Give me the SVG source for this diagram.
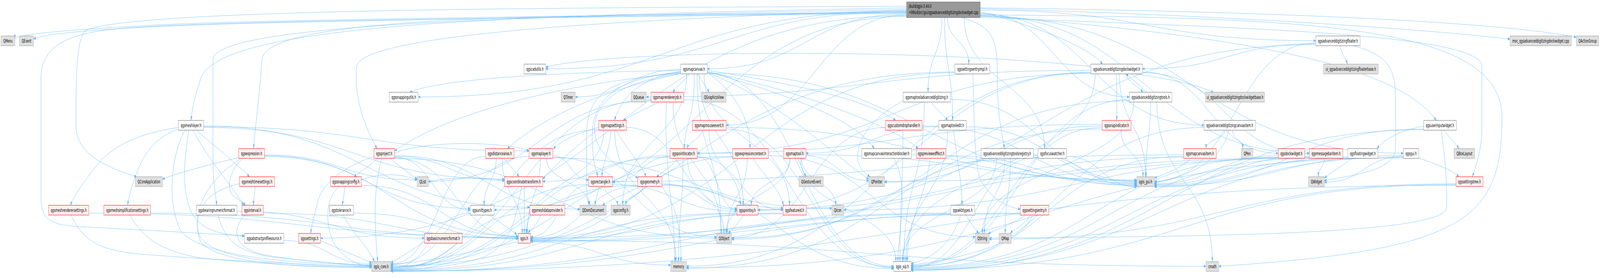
<svg xmlns="http://www.w3.org/2000/svg" width="7965" height="711" viewBox="0 0 7965 711" preserveAspectRatio="none" style="width:100%;height:100%">
<style>
text{font-family:"DejaVu Sans",Verdana,sans-serif;font-size:13px;text-anchor:middle;fill:#000}
.n rect{fill:#fff;stroke:#666}
.r rect{fill:#FFF0F0;stroke:#F00}
.g rect{fill:#E0E0E0;stroke:#999}
.root rect{fill:#999;stroke:#666}
.root text{text-anchor:start}
#edges path{fill:none;stroke:#63B8FF;stroke-width:1;marker-end:url(#a)}
</style>
<defs>
<marker id="a" viewBox="0 0 12 8" refX="11" refY="4" markerWidth="12" markerHeight="8" markerUnits="userSpaceOnUse" orient="auto"><path d="M0,0 L12,4 L0,8 z" fill="#63B8FF"/></marker>
</defs>
<rect width="7965" height="711" fill="#fff"/>
<g id="edges">
<path d="M4513,30 C3000,40 1200,50 700,66 C300,78 74,88 74,100"/>
<path d="M4513,32 C3000,42 1200,55 700,70 C350,80 200,90 167,100"/>
<path d="M4513,16 C3000,20 600,20 420,80 C380,110 378,200 378,320 C378,400 550,430 680,452"/>
<path d="M4513,34 C3000,44 1300,50 700,69 C400,78 204,100 204,200 L204,500 C204,560 240,575 400,580 C800,590 1100,600 1217,603"/>
<path d="M4880,38 C6500,45 7477,60 7477,300 C7477,560 7300,640 6067,681"/>
<path d="M4880,30 C5100,60 5400,110 5489,164"/>
<path d="M4880,22 C6200,40 7200,80 7517,100"/>
<path d="M4880,20 C6500,30 7500,60 7847,95"/>
<path d="M4880,26 C5715,26 5715,104 6550,104"/>
<path d="M4880,36 C5437,36 5437,320 5994,320"/>
<path d="M4880,34 C5251,34 5251,248 5622,248"/>
<path d="M4513,30 C3615,30 3615,176 2717,176"/>
<path d="M4513,32 C3000,40 1350,30 1305,150 C1290,250 1270,330 1262,380"/>
<path d="M4513,36 C4017,36 4017,176 3521,176"/>
<path d="M4702,45 C4702,176 4742,176 4742,308"/>
<path d="M4689,45 C4689,140 4620,140 4620,236"/>
<path d="M4880,40 C5699,40 5699,392 6518,392"/>
<path d="M4800,45 C4800,212 5200,212 5200,380"/>
<path d="M4513,40 C3055,40 3055,609 1596,609"/>
<path d="M4513,28 C3298,28 3298,248 2082,248"/>
<path d="M4513,26 C3000,50 1800,90 1775,170 C1760,250 1820,330 1877,380"/>
<path d="M4513,38 C4064,38 4064,320 3615,320"/>
<path d="M4513,20 C2500,40 1100,60 1000,200 C960,260 955,290 951,308"/>
<path d="M4513,42 C3487,42 3487,537 2460,537"/>
<path d="M4880,42 C5933,42 5933,392 6986,392"/>
<path d="M4513,24 C3000,40 1100,50 1060,150 L1060,400 C1060,470 1075,500 1079,525"/>
<path d="M4716,45 C4716,104 4823,104 4823,164"/>
<path d="M4880,44 C6000,70 7377,80 7377,170 L7377,330 C7377,380 7350,420 7330,452"/>
<path d="M4880,40 C6500,100 7000,200 7150,308"/>
<path d="M4790,45 C4950,70 4965,100 4965,200 C4965,300 4990,340 5000,380"/>
<path d="M5431,170 C4500,120 3000,130 2717,172"/>
<path d="M5431,180 C4324,180 4324,248 3217,248"/>
<path d="M5431,185 C4424,185 4424,681 3417,681"/>
<path d="M5573,189 C5573,320 5703,320 5703,452"/>
<path d="M5452,189 C5452,429 4492,429 4492,669"/>
<path d="M5687,184 C6025,184 6025,392 6363,392"/>
<path d="M5687,186 C6102,186 6102,392 6518,392"/>
<path d="M5431,186 C4602,186 4602,537 3773,537"/>
<path d="M5431,188 C4451,188 4451,392 3471,392"/>
<path d="M5559,189 L5559,308"/>
<path d="M5650,189 C5800,200 5950,215 6040,236"/>
<path d="M5600,189 C5620,212 5670,222 5690,236"/>
<path d="M5710,236 C5680,222 5640,205 5605,189"/>
<path d="M5727,261 C5727,356 5705,356 5705,452"/>
<path d="M5622,255 C5079,255 5079,681 4536,681"/>
<path d="M5622,258 C4632,258 4632,609 3642,609"/>
<path d="M5644,261 C5644,429 4890,429 4890,597"/>
<path d="M5759,261 C5759,465 6035,465 6035,669"/>
<path d="M6670,117 C6680,140 6700,150 6708,164"/>
<path d="M6737,117 C6900,140 6947,170 6947,250 L6947,380 C6947,440 6700,450 6593,462"/>
<path d="M6550,110 C6148,110 6148,464 5747,464"/>
<path d="M6550,112 C6118,112 6118,176 5687,176"/>
<path d="M6550,114 C5161,114 5161,537 3773,537"/>
<path d="M6098,333 C6098,356 6004,356 6004,380"/>
<path d="M6136,333 C6136,356 6187,356 6187,380"/>
<path d="M6117,333 C6080,420 5900,450 5747,468"/>
<path d="M5994,326 C5265,326 5265,681 4536,681"/>
<path d="M5928,405 C5880,430 5800,445 5747,455"/>
<path d="M5892,400 C5214,400 5214,681 4536,681"/>
<path d="M5892,396 C4470,396 4470,464 3049,464"/>
<path d="M5892,402 C4832,402 4832,537 3773,537"/>
<path d="M6363,398 C6055,398 6055,470 5747,470"/>
<path d="M6363,402 C5450,402 5450,684 4536,684"/>
<path d="M6592,405 C6592,428 6563,428 6563,452"/>
<path d="M6518,400 C6132,400 6132,472 5747,472"/>
<path d="M6518,403 C4580,403 4580,609 2641,609"/>
<path d="M6518,404 C5359,404 5359,537 4200,537"/>
<path d="M6530,405 C5533,405 5533,686 4536,686"/>
<path d="M6730,405 C6680,425 6630,440 6593,455"/>
<path d="M6709,402 C5556,402 5556,464 4404,464"/>
<path d="M6709,404 C6228,404 6228,474 5747,474"/>
<path d="M6720,405 C5628,405 5628,688 4536,688"/>
<path d="M7063,404 C7150,420 7230,435 7263,452"/>
<path d="M6986,398 C6366,398 6366,476 5747,476"/>
<path d="M6986,402 C5761,402 5761,690 4536,690"/>
<path d="M6986,400 C6790,400 6790,466 6593,466"/>
<path d="M6986,404 C5201,404 5201,685 3417,685"/>
<path d="M7087,323 C7000,330 6900,350 6855,380"/>
<path d="M7188,333 C7210,350 7245,365 7263,380"/>
<path d="M7087,330 C6417,330 6417,478 5747,478"/>
<path d="M7174,333 C7200,420 7202,480 7202,530 C7202,600 6000,605 4925,609"/>
<path d="M7087,332 C5811,332 5811,692 4536,692"/>
<path d="M4843,189 C4850,300 4850,420 4880,460 C4950,520 5030,530 5079,535"/>
<path d="M4754,184 C3350,184 3350,681 1946,681"/>
<path d="M4754,186 C3697,186 3697,609 2641,609"/>
<path d="M4635,261 C4660,280 4700,295 4718,308"/>
<path d="M4496,258 C4380,290 4270,340 4270,400 C4270,430 4300,440 4330,452"/>
<path d="M4731,254 C5195,254 5195,464 5659,464"/>
<path d="M4601,261 C4601,465 4500,465 4500,669"/>
<path d="M4674,324 C4343,324 4343,392 4012,392"/>
<path d="M4747,333 C4770,430 4789,470 4789,525"/>
<path d="M4810,324 C5235,324 5235,466 5659,466"/>
<path d="M4717,333 C4717,500 4510,500 4510,669"/>
<path d="M5487,318 C4479,318 4479,392 3471,392"/>
<path d="M5580,333 C5580,392 5690,392 5690,452"/>
<path d="M5487,326 C5011,326 5011,679 4536,679"/>
<path d="M5487,322 C4945,322 4945,466 4404,466"/>
<path d="M5487,330 C4452,330 4452,686 3417,686"/>
<path d="M4408,326 C4025,326 4025,609 3642,609"/>
<path d="M4591,322 C5125,322 5125,470 5659,470"/>
<path d="M4495,333 C4495,500 4480,500 4480,669"/>
<path d="M4450,405 C4530,480 4470,600 4470,669"/>
<path d="M4538,396 C5098,396 5098,472 5659,472"/>
<path d="M4631,405 C4600,520 4517,560 4517,669"/>
<path d="M4709,398 C5184,398 5184,474 5659,474"/>
<path d="M5144,396 C5401,396 5401,476 5659,476"/>
<path d="M4962,405 C4962,537 4492,537 4492,669"/>
<path d="M5002,405 C5002,501 4900,501 4900,597"/>
<path d="M5030,405 C5030,501 5004,501 5004,597"/>
<path d="M5167,398 C4405,398 4405,612 3642,612"/>
<path d="M5310,400 C5485,400 5485,478 5659,478"/>
<path d="M5167,402 C4851,402 4851,684 4536,684"/>
<path d="M3376,405 C3340,425 3300,440 3269,452"/>
<path d="M3335,398 C3018,398 3018,464 2702,464"/>
<path d="M3335,400 C3192,400 3192,466 3049,466"/>
<path d="M3471,400 C3570,400 3570,537 3668,537"/>
<path d="M3471,402 C3684,402 3684,537 3898,537"/>
<path d="M3335,402 C2640,402 2640,683 1946,683"/>
<path d="M3400,405 C3400,537 3378,537 3378,669"/>
<path d="M3423,405 C3423,501 3604,501 3604,597"/>
<path d="M3389,178 C3126,178 3126,248 2864,248"/>
<path d="M3432,189 C3410,205 3370,222 3349,236"/>
<path d="M3472,189 C3490,205 3515,222 3531,236"/>
<path d="M3389,182 C3200,200 3100,240 3059,308"/>
<path d="M3456,189 C3460,300 3407,320 3407,380"/>
<path d="M3521,186 C3650,230 3734,300 3734,380"/>
<path d="M3389,184 C3050,200 2948,260 2948,350 C2948,410 2965,430 2976,452"/>
<path d="M3389,186 C3000,200 2920,250 2920,350 L2920,470 C2920,500 2930,510 2938,525"/>
<path d="M3389,188 C3080,210 2960,260 2960,330 C2960,400 3100,430 3175,455"/>
<path d="M3481,189 C3481,357 3700,357 3700,525"/>
<path d="M3521,180 C3900,210 4300,250 4459,308"/>
<path d="M3521,183 C3900,240 4250,300 4352,380"/>
<path d="M3521,184 C3900,220 4450,320 4570,380"/>
<path d="M3521,186 C3900,260 4200,420 4325,458"/>
<path d="M3521,187 C4590,187 4590,468 5659,468"/>
<path d="M3521,188 C3985,188 3985,681 4449,681"/>
<path d="M3470,189 C3470,393 3590,393 3590,597"/>
<path d="M3389,187 C2700,220 2200,300 1964,386"/>
<path d="M3389,188 C3000,230 2700,300 2526,380"/>
<path d="M3418,189 C3418,357 3100,357 3100,525"/>
<path d="M3505,189 C3505,357 3930,357 3930,525"/>
<path d="M3389,180 C2800,185 2200,200 2040,236"/>
<path d="M3278,261 C3230,275 3150,292 3104,308"/>
<path d="M3318,261 C3300,400 3360,550 3360,669"/>
<path d="M3241,255 C2594,255 2594,685 1946,685"/>
<path d="M3403,255 C3926,255 3926,683 4449,683"/>
<path d="M3350,261 C3350,429 3590,429 3590,597"/>
<path d="M3241,258 C2686,258 2686,464 2132,464"/>
<path d="M3043,333 C3030,390 3000,420 2996,452"/>
<path d="M3066,333 C3120,380 3190,420 3217,452"/>
<path d="M2980,326 C2870,340 2800,360 2754,380"/>
<path d="M2980,330 C2850,380 2750,430 2702,458"/>
<path d="M2980,332 C2463,332 2463,687 1946,687"/>
<path d="M3006,333 C3006,465 2620,465 2620,597"/>
<path d="M3119,326 C3394,326 3394,533 3668,533"/>
<path d="M3060,333 C3060,501 3365,501 3365,669"/>
<path d="M3529,333 C3529,429 3685,429 3685,525"/>
<path d="M3500,333 C3480,355 3430,365 3420,380"/>
<path d="M3615,326 C4637,326 4637,462 5659,462"/>
<path d="M3615,330 C4032,330 4032,685 4449,685"/>
<path d="M888,326 C700,340 560,370 470,430 C410,470 370,500 350,525"/>
<path d="M888,330 C780,350 720,390 690,430 C660,470 640,500 636,525"/>
<path d="M977,333 C1060,370 1180,420 1242,452"/>
<path d="M961,333 C1050,420 1150,470 1213,525"/>
<path d="M1014,324 C1824,324 1824,386 2634,386"/>
<path d="M1014,322 C1825,322 1825,530 2637,530"/>
<path d="M940,333 C920,400 900,480 950,540 C1000,590 1100,600 1217,604"/>
<path d="M920,333 C850,400 830,520 900,590 C1000,660 1500,675 1850,678"/>
<path d="M1014,326 C1763,326 1763,458 2512,458"/>
<path d="M1188,403 C1050,420 900,440 809,458"/>
<path d="M1209,405 C1150,430 1120,480 1160,500 C1190,512 1210,518 1222,525"/>
<path d="M1317,398 C1829,398 1829,533 2341,533"/>
<path d="M1200,405 C1000,470 950,560 1000,620 C1100,680 1600,685 1850,683"/>
<path d="M1317,400 C1948,400 1948,604 2579,604"/>
<path d="M1317,396 C1697,396 1697,460 2077,460"/>
<path d="M1880,405 C1840,425 1790,440 1762,452"/>
<path d="M1861,400 C1700,430 1600,470 1580,520 C1560,560 1550,580 1547,597"/>
<path d="M1942,405 C1990,425 2040,445 2077,458"/>
<path d="M1900,405 C1850,500 1870,600 1880,669"/>
<path d="M1964,400 C2238,400 2238,462 2512,462"/>
<path d="M1964,392 C2100,360 2500,360 2634,386"/>
<path d="M1964,402 C2152,402 2152,537 2341,537"/>
<path d="M1964,404 C2271,404 2271,606 2579,606"/>
<path d="M1950,405 C2758,405 2758,609 3567,609"/>
<path d="M1964,398 C2425,398 2425,535 2887,535"/>
<path d="M2508,405 C2530,420 2565,438 2584,452"/>
<path d="M2470,405 C2470,465 2410,465 2410,525"/>
<path d="M2417,400 C2181,400 2181,675 1946,675"/>
<path d="M2500,405 C2500,501 2600,501 2600,597"/>
<path d="M2634,400 C2290,400 2290,677 1946,677"/>
<path d="M2690,405 C2690,501 2625,501 2625,597"/>
<path d="M2753,398 C2841,398 2841,460 2930,460"/>
<path d="M2753,402 C3160,402 3160,606 3567,606"/>
<path d="M2720,405 C2720,465 2930,465 2930,525"/>
<path d="M2753,404 C3447,404 3447,533 4141,533"/>
<path d="M3750,405 C3800,450 3880,480 3900,525"/>
<path d="M3647,400 C2796,400 2796,680 1946,680"/>
<path d="M3647,402 C3144,402 3144,612 2641,612"/>
<path d="M3825,398 C4340,398 4340,606 4855,606"/>
<path d="M3720,405 C3720,501 3620,501 3620,597"/>
<path d="M3971,405 C3985,420 4000,438 4013,452"/>
<path d="M4012,398 C4168,398 4168,462 4325,462"/>
<path d="M4012,396 C4835,396 4835,460 5659,460"/>
<path d="M3985,405 C3985,537 4460,537 4460,669"/>
<path d="M3930,405 C3930,501 3615,501 3615,597"/>
<path d="M3935,405 C3935,465 3740,465 3740,525"/>
<path d="M3990,405 C3990,465 4160,465 4160,525"/>
<path d="M1192,470 C1000,490 950,560 1000,610 C1100,670 1500,680 1850,681"/>
<path d="M1270,477 C1268,500 1262,510 1262,525"/>
<path d="M1717,477 C1714,495 1708,510 1704,525"/>
<path d="M1690,477 C1630,500 1610,560 1660,620 C1720,670 1800,680 1850,681"/>
<path d="M1799,474 C2189,474 2189,605 2579,605"/>
<path d="M1799,460 C1900,440 2000,445 2077,460"/>
<path d="M2598,477 C2560,560 2560,620 2400,660 C2200,690 2000,690 1946,688"/>
<path d="M2610,477 L2610,597"/>
<path d="M2512,462 C2400,450 2200,455 2132,465"/>
<path d="M2983,477 C2975,495 2966,510 2961,525"/>
<path d="M3049,472 C3358,472 3358,540 3668,540"/>
<path d="M2930,472 C2438,472 2438,690 1946,690"/>
<path d="M2930,474 C2785,474 2785,606 2641,606"/>
<path d="M3010,477 C3010,501 3070,501 3075,525"/>
<path d="M3188,477 C3120,495 3040,510 2999,525"/>
<path d="M3291,477 C3370,520 3395,600 3389,669"/>
<path d="M3175,474 C2560,474 2560,692 1946,692"/>
<path d="M3175,476 C2908,476 2908,608 2641,608"/>
<path d="M3295,470 C3481,470 3481,536 3668,536"/>
<path d="M3200,477 C3200,501 3120,501 3115,525"/>
<path d="M3295,474 C3872,474 3872,687 4449,687"/>
<path d="M3295,472 C3596,472 3596,532 3898,532"/>
<path d="M7248,474 C4597,474 4597,693 1946,693"/>
<path d="M7248,472 C5892,472 5892,690 4536,690"/>
<path d="M7248,470 C6086,470 6086,612 4925,612"/>
<path d="M353,550 C420,620 500,640 700,650 C1200,670 1700,680 1850,683"/>
<path d="M442,545 C1510,545 1510,607 2579,607"/>
<path d="M647,550 C700,600 780,640 1000,660 C1400,680 1700,684 1850,684"/>
<path d="M750,545 C1664,545 1664,608 2579,608"/>
<path d="M1180,540 C1646,540 1646,609 2113,609"/>
<path d="M1086,550 C1120,620 1200,650 1400,660 C1600,670 1750,678 1850,680"/>
<path d="M1220,550 C1160,580 1150,630 1300,650 C1500,670 1750,676 1850,679"/>
<path d="M1311,545 C1945,545 1945,610 2579,610"/>
<path d="M1708,550 C1760,600 1830,630 1864,669"/>
<path d="M1759,545 C2169,545 2169,611 2579,611"/>
<path d="M2435,550 C2490,570 2540,585 2573,600"/>
<path d="M2341,545 C2143,545 2143,686 1946,686"/>
<path d="M2637,545 C2291,545 2291,689 1946,689"/>
<path d="M2690,550 C2680,575 2640,585 2630,597"/>
<path d="M3701,550 C3680,570 3645,585 3625,598"/>
<path d="M3668,545 C2807,545 2807,691 1946,691"/>
<path d="M3668,547 C3154,547 3154,612 2641,612"/>
<path d="M3898,547 C2922,547 2922,693 1946,693"/>
<path d="M3898,545 C3270,545 3270,614 2641,614"/>
<path d="M4783,550 C4740,620 4650,660 4536,674"/>
<path d="M4809,550 C4830,570 4855,585 4872,597"/>
<path d="M4733,545 C3687,545 3687,616 2641,616"/>
<path d="M4733,547 C3340,547 3340,694 1946,694"/>
<path d="M5108,550 C5050,570 4960,588 4920,597"/>
<path d="M5079,545 C3512,545 3512,694 1946,694"/>
<path d="M5079,547 C3860,547 3860,618 2641,618"/>
<path d="M5139,550 C5100,620 4800,660 4536,678"/>
<path d="M5130,550 C5100,575 5040,590 5030,597"/>
<path d="M1413,615 C1631,615 1631,675 1850,675"/>
<path d="M1596,615 C1700,640 1800,660 1850,672"/>
<path d="M2113,618 C2050,640 1990,660 1946,672"/>
<path d="M2579,618 C2300,650 2100,672 1946,676"/>
<path d="M2641,615 C4322,615 4322,681 6004,681"/>
<path d="M2641,618 C2990,618 2990,678 3339,678"/>
</g>
<g id="root" class="root"><rect x="4513" y="5" width="367" height="40"/><text x="4524" y="20.5">/build/qgis-3.44.0</text><text x="4524" y="36">+99sid/src/gui/qgsadvanceddigitizingdockwidget.cpp</text></g>
<g id="qmenu" class="g"><rect x="5" y="92" width="69" height="25"/><text x="39.5" y="109">QMenu</text></g>
<g id="qevent" class="g"><rect x="97" y="92" width="70" height="25"/><text x="132" y="109">QEvent</text></g>
<g id="floater" class="n"><rect x="6550" y="92" width="221" height="25"/><text x="6660.5" y="109">qgsadvanceddigitizingfloater.h</text></g>
<g id="moc" class="g"><rect x="7517" y="92" width="306" height="25"/><text x="7670" y="109">moc_qgsadvanceddigitizingdockwidget.cpp</text></g>
<g id="qactiongroup" class="g"><rect x="7847" y="92" width="112" height="25"/><text x="7903" y="109">QActionGroup</text></g>
<g id="cadutils" class="n"><rect x="2609" y="164" width="108" height="25"/><text x="2663" y="181">qgscadutils.h</text></g>
<g id="mapcanvas" class="n"><rect x="3389" y="164" width="132" height="25"/><text x="3455" y="181">qgsmapcanvas.h</text></g>
<g id="sentryimpl" class="n"><rect x="4754" y="164" width="173" height="25"/><text x="4840.5" y="181">qgssettingsentryimpl.h</text></g>
<g id="addockh" class="n"><rect x="5431" y="164" width="256" height="25"/><text x="5559" y="181">qgsadvanceddigitizingdockwidget.h</text></g>
<g id="uifloater" class="g"><rect x="6588" y="164" width="273" height="25"/><text x="6724.5" y="181">ui_qgsadvanceddigitizingfloaterbase.h</text></g>
<g id="snaputils" class="n"><rect x="1938" y="236" width="144" height="25"/><text x="2010" y="253">qgssnappingutils.h</text></g>
<g id="qtimer" class="g"><rect x="2793" y="236" width="71" height="25"/><text x="2828.5" y="253">QTimer</text></g>
<g id="qqueue" class="g"><rect x="3142" y="236" width="75" height="25"/><text x="3179.5" y="253">QQueue</text></g>
<g id="maprenderjob" class="r"><rect x="3241" y="236" width="162" height="25"/><text x="3322" y="253">qgsmaprendererjob.h</text></g>
<g id="qgraphicsview" class="g"><rect x="3493" y="236" width="122" height="25"/><text x="3554" y="253">QGraphicsView</text></g>
<g id="mtad" class="n"><rect x="4496" y="236" width="235" height="25"/><text x="4613.5" y="253">qgsmaptooladvanceddigitizing.h</text></g>
<g id="adtools" class="n"><rect x="5622" y="236" width="212" height="25"/><text x="5728" y="253">qgsadvanceddigitizingtools.h</text></g>
<g id="uidock" class="g"><rect x="6001" y="236" width="294" height="25"/><text x="6148" y="253">ui_qgsadvanceddigitizingdockwidgetbase.h</text></g>
<g id="meshlayer" class="n"><rect x="888" y="308" width="126" height="25"/><text x="951" y="325">qgsmeshlayer.h</text></g>
<g id="mapsettings" class="r"><rect x="2980" y="308" width="139" height="25"/><text x="3049.5" y="325">qgsmapsettings.h</text></g>
<g id="mousevent" class="r"><rect x="3447" y="308" width="168" height="25"/><text x="3531" y="325">qgsmapmouseevent.h</text></g>
<g id="customdrop" class="r"><rect x="4408" y="308" width="183" height="25"/><text x="4499.5" y="325">qgscustomdrophandler.h</text></g>
<g id="mtedit" class="n"><rect x="4674" y="308" width="136" height="25"/><text x="4742" y="325">qgsmaptooledit.h</text></g>
<g id="snapind" class="r"><rect x="5487" y="308" width="144" height="25"/><text x="5559" y="325">qgssnapindicator.h</text></g>
<g id="canvasitemad" class="n"><rect x="5994" y="308" width="256" height="25"/><text x="6122" y="325">qgsadvanceddigitizingcanvasitem.h</text></g>
<g id="userinput" class="n"><rect x="7087" y="308" width="163" height="25"/><text x="7168.5" y="325">qgsuserinputwidget.h</text></g>
<g id="expression" class="r"><rect x="1188" y="380" width="129" height="25"/><text x="1252.5" y="397">qgsexpression.h</text></g>
<g id="project" class="r"><rect x="1861" y="380" width="103" height="25"/><text x="1912.5" y="397">qgsproject.h</text></g>
<g id="distarea" class="r"><rect x="2417" y="380" width="142" height="25"/><text x="2488" y="397">qgsdistancearea.h</text></g>
<g id="maplayer" class="r"><rect x="2634" y="380" width="119" height="25"/><text x="2693.5" y="397">qgsmaplayer.h</text></g>
<g id="pointlocator" class="r"><rect x="3335" y="380" width="136" height="25"/><text x="3403" y="397">qgspointlocator.h</text></g>
<g id="exprctx" class="r"><rect x="3647" y="380" width="178" height="25"/><text x="3736" y="397">qgsexpressioncontext.h</text></g>
<g id="maptool" class="r"><rect x="3901" y="380" width="111" height="25"/><text x="3956.5" y="397">qgsmaptool.h</text></g>
<g id="blocker" class="n"><rect x="4290" y="380" width="248" height="25"/><text x="4414" y="397">qgsmapcanvasinteractionblocker.h</text></g>
<g id="preview" class="r"><rect x="4562" y="380" width="147" height="25"/><text x="4635.5" y="397">qgspreviewedffect.h</text></g>
<g id="toolsreg" class="n"><rect x="4884" y="380" width="260" height="25"/><text x="5014" y="397">qgsadvanceddigitizingtoolsregistry.h</text></g>
<g id="focus" class="n"><rect x="5167" y="380" width="143" height="25"/><text x="5238.5" y="397">qgsfocuswatcher.h</text></g>
<g id="mapcanvasitem" class="r"><rect x="5892" y="380" width="163" height="25"/><text x="5973.5" y="397">qgsmapcanvasitem.h</text></g>
<g id="qpen" class="g"><rect x="6180" y="380" width="57" height="25"/><text x="6208.5" y="397">QPen</text></g>
<g id="dockwidget" class="r"><rect x="6363" y="380" width="132" height="25"/><text x="6429" y="397">qgsdockwidget.h</text></g>
<g id="msgbaritem" class="r"><rect x="6518" y="380" width="167" height="25"/><text x="6601.5" y="397">qgsmessagebaritem.h</text></g>
<g id="floatwidget" class="n"><rect x="6709" y="380" width="151" height="25"/><text x="6784.5" y="397">qgsfloatingwidget.h</text></g>
<g id="gui" class="n"><rect x="6986" y="380" width="77" height="25"/><text x="7024.5" y="397">qgsgui.h</text></g>
<g id="qboxlayout" class="g"><rect x="7239" y="380" width="102" height="25"/><text x="7290" y="397">QBoxLayout</text></g>
<g id="qcoreapp" class="g"><rect x="674" y="452" width="135" height="25"/><text x="741.5" y="469">QCoreApplication</text></g>
<g id="meshtime" class="r"><rect x="1192" y="452" width="175" height="25"/><text x="1279.5" y="469">qgsmeshtimesettings.h</text></g>
<g id="snapconfig" class="r"><rect x="1645" y="452" width="154" height="25"/><text x="1722" y="469">qgssnappingconfig.h</text></g>
<g id="qlist" class="g"><rect x="2077" y="452" width="55" height="25"/><text x="2104.5" y="469">QList</text></g>
<g id="coordtrans" class="r"><rect x="2512" y="452" width="190" height="25"/><text x="2607" y="469">qgscoordinatetransform.h</text></g>
<g id="rectangle" class="r"><rect x="2930" y="452" width="119" height="25"/><text x="2989.5" y="469">qgsrectangle.h</text></g>
<g id="geometry" class="r"><rect x="3175" y="452" width="120" height="25"/><text x="3235" y="469">qgsgeometry.h</text></g>
<g id="qgesture" class="g"><rect x="3977" y="452" width="121" height="25"/><text x="4037.5" y="469">QGestureEvent</text></g>
<g id="qpointer" class="g"><rect x="4325" y="452" width="79" height="25"/><text x="4364.5" y="469">QPointer</text></g>
<g id="qgisgui" class="g"><rect x="5659" y="452" width="88" height="25"/><text x="5703" y="469">qgis_gui.h</text></g>
<g id="qwidget" class="g"><rect x="6514" y="452" width="79" height="25"/><text x="6553.5" y="469">QWidget</text></g>
<g id="settingstree" class="r"><rect x="7248" y="452" width="135" height="25"/><text x="7315.5" y="469">qgssettingstree.h</text></g>
<g id="meshrender" class="r"><rect x="242" y="525" width="200" height="25"/><text x="342" y="542">qgsmeshrenderersettings.h</text></g>
<g id="meshsimp" class="r"><rect x="517" y="525" width="233" height="25"/><text x="633.5" y="542">qgsmeshsimplificationsettings.h</text></g>
<g id="bearing" class="n"><rect x="978" y="525" width="202" height="25"/><text x="1079" y="542">qgsbearingnumericformat.h</text></g>
<g id="interval" class="r"><rect x="1204" y="525" width="107" height="25"/><text x="1257.5" y="542">qgsinterval.h</text></g>
<g id="tolerance" class="n"><rect x="1640" y="525" width="119" height="25"/><text x="1699.5" y="542">qgstolerance.h</text></g>
<g id="unittypes" class="n"><rect x="2341" y="525" width="119" height="25"/><text x="2400.5" y="542">qgsunittypes.h</text></g>
<g id="meshdp" class="r"><rect x="2637" y="525" width="175" height="25"/><text x="2724.5" y="542">qgsmeshdataprovider.h</text></g>
<g id="qdomdoc" class="g"><rect x="2887" y="525" width="131" height="25"/><text x="2952.5" y="542">QDomDocument</text></g>
<g id="qgsconfig" class="g"><rect x="3042" y="525" width="96" height="25"/><text x="3090" y="542">qgsconfig.h</text></g>
<g id="pointxy" class="r"><rect x="3668" y="525" width="105" height="25"/><text x="3720.5" y="542">qgspointxy.h</text></g>
<g id="featureid" class="r"><rect x="3898" y="525" width="116" height="25"/><text x="3956" y="542">qgsfeatureid.h</text></g>
<g id="qicon" class="g"><rect x="4141" y="525" width="59" height="25"/><text x="4170.5" y="542">QIcon</text></g>
<g id="wkbtypes" class="n"><rect x="4733" y="525" width="119" height="25"/><text x="4792.5" y="542">qgswkbtypes.h</text></g>
<g id="settingsentry" class="r"><rect x="5079" y="525" width="142" height="25"/><text x="5150" y="542">qgssettingsentry.h</text></g>
<g id="profilesrc" class="n"><rect x="1217" y="597" width="196" height="25"/><text x="1315" y="614">qgsabstractprofilesource.h</text></g>
<g id="settings" class="r"><rect x="1487" y="597" width="109" height="25"/><text x="1541.5" y="614">qgssettings.h</text></g>
<g id="basicnum" class="r"><rect x="2113" y="597" width="188" height="25"/><text x="2207" y="614">qgsbasicnumericformat.h</text></g>
<g id="qgis" class="r"><rect x="2579" y="597" width="62" height="25"/><text x="2610" y="614">qgis.h</text></g>
<g id="qobject" class="g"><rect x="3567" y="597" width="75" height="25"/><text x="3604.5" y="614">QObject</text></g>
<g id="qstring" class="g"><rect x="4855" y="597" width="70" height="25"/><text x="4890" y="614">QString</text></g>
<g id="qmap" class="g"><rect x="4974" y="597" width="60" height="25"/><text x="5004" y="614">QMap</text></g>
<g id="qgiscore" class="g"><rect x="1850" y="669" width="96" height="25"/><text x="1898" y="686">qgis_core.h</text></g>
<g id="memory" class="g"><rect x="3339" y="669" width="78" height="25"/><text x="3378" y="686">memory</text></g>
<g id="qgissip" class="n"><rect x="4449" y="669" width="87" height="25"/><text x="4492.5" y="686">qgis_sip.h</text></g>
<g id="cmath" class="g"><rect x="6004" y="669" width="63" height="25"/><text x="6035.5" y="686">cmath</text></g>
</svg>
